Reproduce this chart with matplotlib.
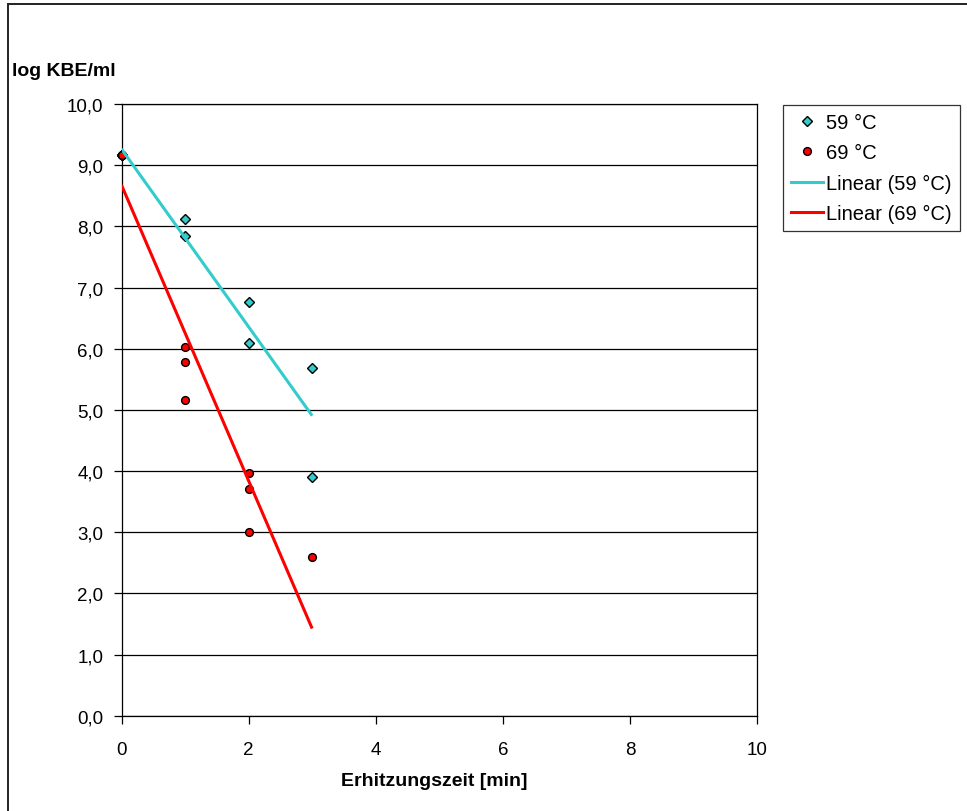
import numpy as np
import matplotlib.pyplot as plt
from matplotlib.lines import Line2D
from matplotlib.patches import Rectangle
from matplotlib.ticker import FuncFormatter

plt.rcParams['font.family'] = ['Liberation Sans', 'DejaVu Sans']

# Erhitzungszeit [min] und log KBE/ml je Temperatur
t_59 = [0, 0, 0, 1, 1, 2, 2, 3, 3]
log_59 = [9.17, 9.17, 9.17, 8.12, 7.85, 6.77, 6.10, 5.68, 3.91]

t_69 = [0, 0, 0, 1, 1, 1, 2, 2, 2, 3]
log_69 = [9.17, 9.17, 9.17, 6.02, 5.79, 5.16, 3.97, 3.71, 3.00, 2.59]

labels = ['59 °C', '69 °C', 'Linear (59 °C)', 'Linear (69 °C)']

TEAL = '#33CCCC'
RED = '#FF0000'

fig = plt.figure(figsize=(9.67, 8.12), dpi=100)
ax = fig.add_axes([121.5 / 967, 1 - 716.7 / 812, 635.5 / 967, 611.7 / 812])

# Rahmen um das Diagramm
fig.patches.append(Rectangle((7.5 / 967, -0.01), 1.0, (812 - 5) / 812 + 0.01,
                             transform=fig.transFigure, fill=False,
                             edgecolor='#222222', linewidth=1.4))

ax.set_xlim(0, 10)
ax.set_ylim(0, 10)
ax.set_yticks(np.arange(0, 11, 1))
ax.set_xticks(np.arange(0, 11, 2))
ax.yaxis.set_major_formatter(FuncFormatter(lambda v, p: f'{v:.1f}'.replace('.', ',')))
ax.grid(axis='y', color='black', linewidth=0.9)
ax.set_axisbelow(True)
for s in ax.spines.values():
    s.set_color('black')
    s.set_linewidth(0.9)
ax.tick_params(direction='out', length=6, width=0.9, labelsize=13.5)
ax.tick_params(axis='y', pad=7)
ax.tick_params(axis='x', pad=12)

ax.plot(t_59, log_59, 'D', ms=4.6, mfc=TEAL, mec='black', mew=1.0, zorder=3, clip_on=False)
ax.plot(t_69, log_69, 'o', ms=5.6, mfc=RED, mec='black', mew=1.0, zorder=4, clip_on=False)

# lineare Trendlinien über den Messbereich
for t, y, c in [(t_59, log_59, TEAL), (t_69, log_69, RED)]:
    k, d = np.polyfit(t, y, 1)
    xs = np.array([min(t), max(t)])
    ax.plot(xs, k * xs + d, color=c, linewidth=2.2, zorder=5, solid_capstyle='butt')

fig.text(12 / 967, 1 - 72 / 812, 'log KBE/ml', fontsize=14, fontweight='bold', va='center', ha='left')
fig.text(434.5 / 967, 1 - 782 / 812, 'Erhitzungszeit [min]', fontsize=14, fontweight='bold',
         va='center', ha='center')

handles = [
    Line2D([], [], marker='D', ls='none', ms=4.6, mfc=TEAL, mec='black', mew=1.0),
    Line2D([], [], marker='o', ls='none', ms=5.6, mfc=RED, mec='black', mew=1.0),
    Line2D([], [], color=TEAL, lw=2.2),
    Line2D([], [], color=RED, lw=2.2),
]
leg = fig.legend(handles, labels, loc='upper left', bbox_to_anchor=(783 / 967, 1 - 106 / 812),
                 fontsize=14.5, frameon=True, fancybox=False, handlelength=1.6,
                 handletextpad=0.15, labelspacing=0.56, borderpad=0.4, borderaxespad=0)
leg.get_frame().set_edgecolor('black')
leg.get_frame().set_linewidth(0.9)

fig.savefig('out.png', dpi=100)
